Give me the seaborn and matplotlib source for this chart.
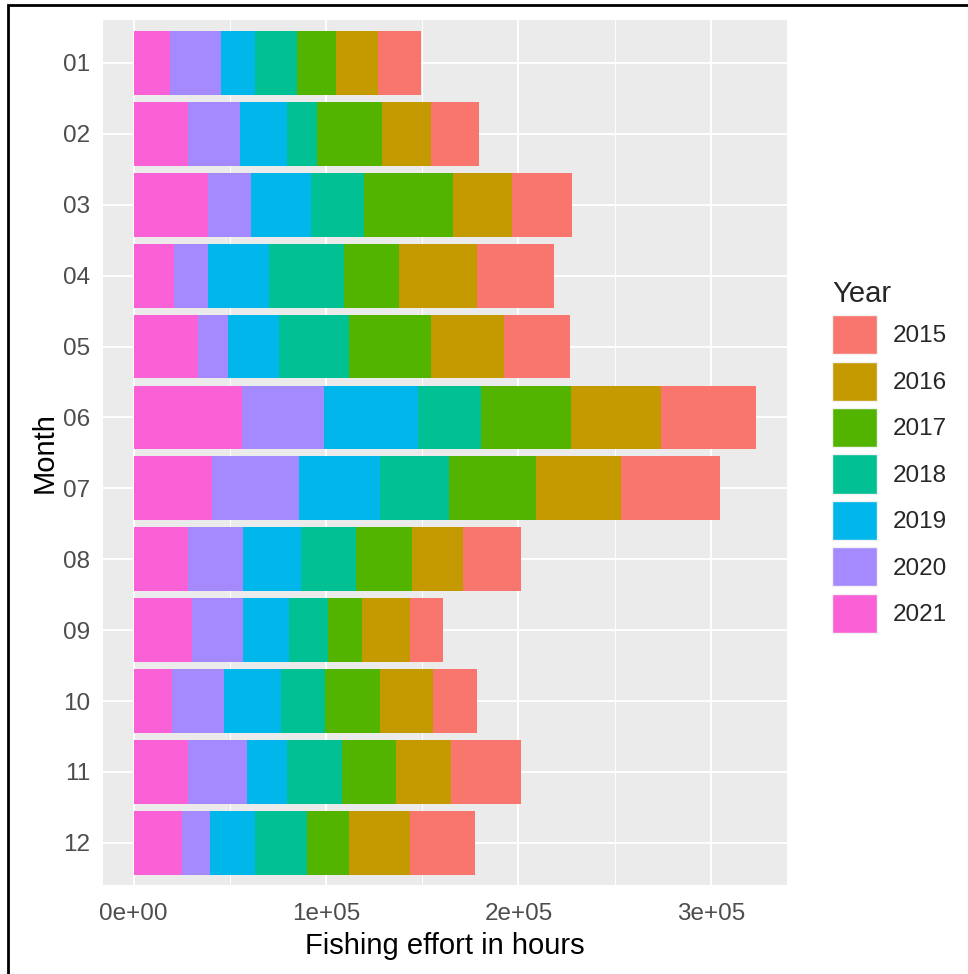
import numpy as np
import pandas as pd
import seaborn as sns
import matplotlib.pyplot as plt
from matplotlib.patches import Patch, Rectangle

sns.set_theme(style="darkgrid")
plt.rcParams["font.family"] = ["Liberation Sans", "DejaVu Sans"]

months = ["01", "02", "03", "04", "05", "06", "07", "08", "09", "10", "11", "12"]
years = ["2015", "2016", "2017", "2018", "2019", "2020", "2021"]
# fishing effort (hours) per month, one list per year
y2015 = [21900, 25100, 31400, 40000, 34300, 49200, 51300, 30100, 17000, 22700, 36700, 33500]
y2016 = [22300, 25100, 30400, 40800, 38100, 47100, 44300, 26500, 25100, 27400, 28300, 31600]
y2017 = [19900, 33900, 46200, 28600, 42300, 46500, 45300, 29500, 17600, 28600, 28300, 21800]
y2018 = [22100, 15500, 27400, 38700, 36600, 32700, 35500, 28600, 20200, 23000, 28300, 27400]
y2019 = [17600, 24400, 31600, 31600, 26300, 49200, 42300, 30100, 24100, 29500, 21200, 23200]
y2020 = [26300, 27200, 22000, 17900, 15800, 42300, 45000, 28400, 26500, 27100, 30400, 14600]
y2021 = [19000, 28300, 38800, 20900, 33400, 56400, 40900, 28300, 30200, 20000, 28300, 25100]

colors = ["#F8766D", "#C49A00", "#53B400", "#00C094", "#00B6EB", "#A58AFF", "#FB61D7"]

df = pd.DataFrame({"2015": y2015, "2016": y2016, "2017": y2017, "2018": y2018,
                   "2019": y2019, "2020": y2020, "2021": y2021}, index=months)
# stack from the left: 2021 first, 2015 last
cum = df[years[::-1]].cumsum(axis=1)

fig, ax = plt.subplots(figsize=(9.68, 9.74), dpi=100)
fig.subplots_adjust(left=0.106, right=0.813, top=0.979, bottom=0.091)
ax.set_facecolor("#EBEBEB")

for yr, col in zip(years, colors):
    d = pd.DataFrame({"Month": months, "hours": cum[yr].values})
    sns.barplot(data=d, x="hours", y="Month", orient="h", color=col,
                width=0.9, saturation=1, linewidth=0, ax=ax)

ax.set_xlim(-16170, 339570)
ax.set_ylim(11.6, -0.6)
ax.set_xticks([0, 100000, 200000, 300000])
ax.set_xticklabels(["0e+00", "1e+05", "2e+05", "3e+05"])
ax.set_xticks([50000, 150000, 250000], minor=True)
ax.grid(which="major", color="white", linewidth=1.4)
ax.grid(which="minor", axis="x", color="white", linewidth=0.7)
ax.set_axisbelow(True)
for s in ax.spines.values():
    s.set_visible(False)
ax.tick_params(axis="both", which="major", length=5, width=1, color="#333333",
               labelcolor="#4D4D4D", labelsize=17.5, pad=4)
ax.tick_params(axis="x", which="major", pad=8)
ax.tick_params(axis="both", which="minor", length=0)
ax.set_xlabel("Fishing effort in hours", fontsize=21, color="black", labelpad=5)
ax.set_ylabel("Month", fontsize=21, color="black", labelpad=3)

handles = [Patch(facecolor=c, edgecolor="#F2F2F2", linewidth=1, label=y) for y, c in zip(years, colors)]
leg = ax.legend(handles=handles, title="Year", loc="center left", bbox_to_anchor=(1.066, 0.496),
                frameon=False, fontsize=17.5, title_fontsize=21, handlelength=1.85,
                handleheight=2.1, labelspacing=0.3, handletextpad=0.66,
                borderaxespad=0, borderpad=0)
leg._legend_box.align = "left"

fig.patches.append(Rectangle((8 / 968, -0.05), 1.1, 1.05 - 5 / 974, transform=fig.transFigure,
                             fill=False, edgecolor="black", linewidth=2))

fig.savefig("out.png", dpi=100)
